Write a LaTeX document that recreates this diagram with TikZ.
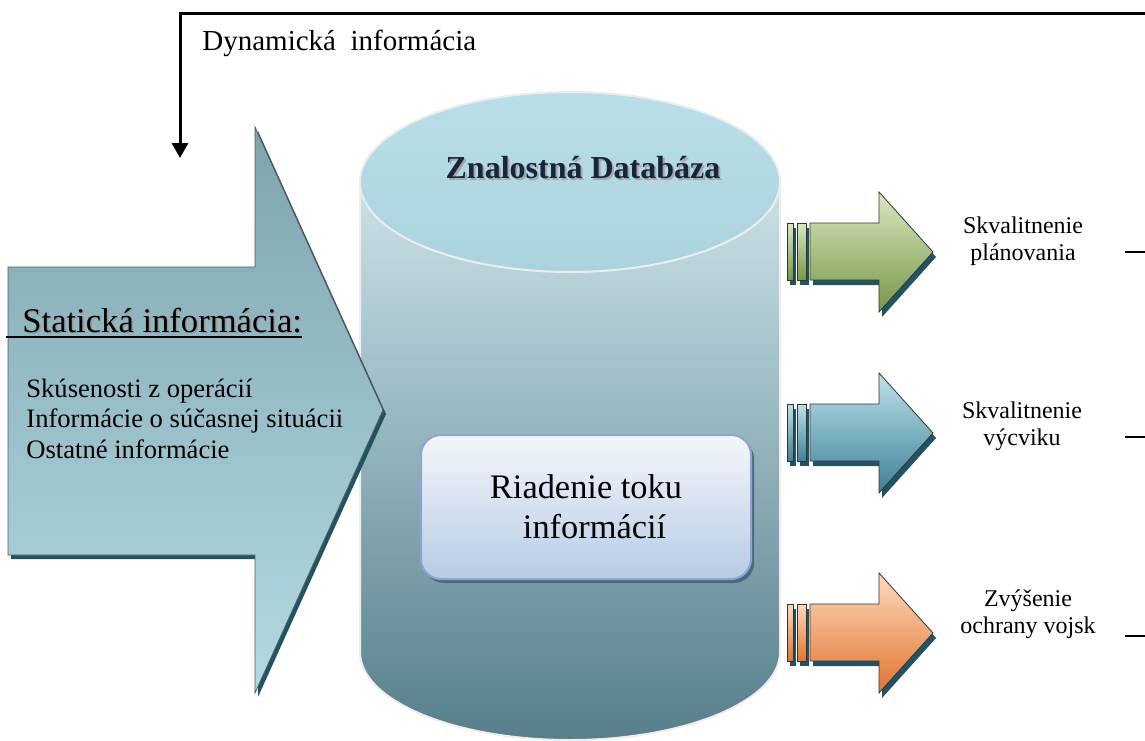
\documentclass[tikz,border=0pt]{standalone}
\usepackage{fontspec}
\setmainfont{Liberation Serif}
\usetikzlibrary{arrows.meta,shadows}

\definecolor{bigtop}{HTML}{7EA4AD}
\definecolor{bigbot}{HTML}{B3D9E4}
\definecolor{shade}{HTML}{1F5563}
\definecolor{cyltop}{HTML}{CAE2E8}
\definecolor{cylbot}{HTML}{567E8B}
\definecolor{lidtop}{HTML}{B9DEE7}
\definecolor{lidbot}{HTML}{ABD3DE}
\definecolor{cylrim}{HTML}{EDEDED}
\definecolor{flowtop}{HTML}{F4F7FB}
\definecolor{flowbot}{HTML}{B7CBE5}
\definecolor{flowrim}{HTML}{8AA7D3}
\definecolor{flowshade}{HTML}{4C6A7E}
\definecolor{grtop}{HTML}{D9E7C0}
\definecolor{grbot}{HTML}{779846}
\definecolor{bltop}{HTML}{BDE1EA}
\definecolor{blbot}{HTML}{3D8298}
\definecolor{ortop}{HTML}{FCDABE}
\definecolor{orbot}{HTML}{E4732F}
\definecolor{titleblue}{HTML}{17253F}

\begin{document}
\begin{tikzpicture}[x=0.5pt, y=-0.5pt,
  every node/.style={inner sep=0pt},
  bigarrow/.style={top color=bigtop, bottom color=bigbot, draw=black!65, line width=0.4pt,
    drop shadow={shadow xshift=1.5pt, shadow yshift=-2pt, fill=shade, opacity=1}},
  cylbody/.style={top color=cyltop, bottom color=cylbot, draw=cylrim, line width=1pt},
  cyllid/.style={top color=lidtop, bottom color=lidbot, draw=cylrim, line width=1pt},
  dbtitle/.style={anchor=base, font=\fontsize{16}{19}\selectfont\bfseries},
  flowbox/.style={rounded corners=10pt, minimum width=165pt, minimum height=72pt,
    top color=flowtop, bottom color=flowbot, draw=flowrim, line width=1pt, align=center,
    font=\fontsize{17.2}{20}\selectfont,
    drop shadow={shadow xshift=1.5pt, shadow yshift=-2pt, fill=flowshade, opacity=1}},
  gain/.style={draw=black!80, line width=0.4pt,
    drop shadow={shadow xshift=1.5pt, shadow yshift=-2.5pt, fill=shade, opacity=1}},
  goal/.style={align=center, font=\fontsize{12}{13.5}\selectfont},
  item/.style={anchor=base west, font=\fontsize{13.3}{15}\selectfont},
  dynline/.style={line width=1.5pt, -{Triangle[length=7.5pt,width=8pt]}},
  cutline/.style={line width=0.75pt}]
\useasboundingbox (0,0) rectangle (1145,740);

% knowledge base cylinder
\path[cylbody] (360,182) -- (360,652)
  arc[start angle=180, end angle=360, x radius=105pt, y radius=44pt] -- (780,182) -- cycle;
\path[cyllid] (570,182) ellipse[x radius=105pt, y radius=45pt];
\node[dbtitle, text=black!35] (dbshadow) at (585,180) {Znalostná Databáza};
\node[dbtitle, text=titleblue] (db) at (583,178) {Znalostná Databáza};

% static information
\path[bigarrow] (8,267) -- (255,267) -- (255,127) -- (383,410) -- (255,693)
  -- (255,555) -- (8,555) -- cycle;
\node[anchor=base west, font=\fontsize{17.3}{20}\selectfont, text=black!40] (statshadow)
  at (23.5,333.5) {Statická informácia:};
\node[anchor=base west, font=\fontsize{17.3}{20}\selectfont] (statinfo)
  at (22,332) {Statická informácia:};
\draw[line width=0.8pt] (6,337) -- (302,337);
\foreach \by/\txt [count=\i] in {397/Skúsenosti z operácií,
    427/Informácie o súčasnej situácii, 458/Ostatné informácie}
  \node[item] (item\i) at (26,\by) {\txt};

% information flow control
\node[flowbox] (flow) at (586,507) {Riadenie toku\\\hspace*{0.5em}informácií};

% outcomes
\foreach \cy/\lx/\ly/\dy/\ctop/\cbot/\txt [count=\i] in {
    252/1023/241/252/grtop/grbot/{Skvalitnenie\\plánovania},
    433/1022/426/437/bltop/blbot/{Skvalitnenie\\výcviku},
    633/1028/614/636/ortop/orbot/{Zvýšenie\\ochrany vojsk}} {
  \path[gain, top color=\ctop, bottom color=\cbot] (787,\cy-29) rectangle (793,\cy+28);
  \path[gain, top color=\ctop, bottom color=\cbot] (797,\cy-29) rectangle (806,\cy+28);
  \path[gain, top color=\ctop, bottom color=\cbot] (810,\cy-29) -- (879,\cy-29)
    -- (879,\cy-60) -- (933,\cy) -- (879,\cy+60) -- (879,\cy+28) -- (810,\cy+28) -- cycle;
  \node[goal] (goal\i) at (\lx,\ly) {\txt};
  \coordinate (stub\i) at (1125,\dy);
  \coordinate (cut\i) at (1145,\dy);
  \draw[cutline] (stub\i) -- (cut\i);
}

% dynamic information
\coordinate (dynsrc) at (1145,13);
\coordinate (dyntgt) at (180,158);
\draw[dynline] (dynsrc) -| (dyntgt);
\node[anchor=base west, font=\fontsize{14.5}{17}\selectfont] (dyninfo)
  at (202,50) {Dynamická\ \ informácia};
\end{tikzpicture}
\end{document}
